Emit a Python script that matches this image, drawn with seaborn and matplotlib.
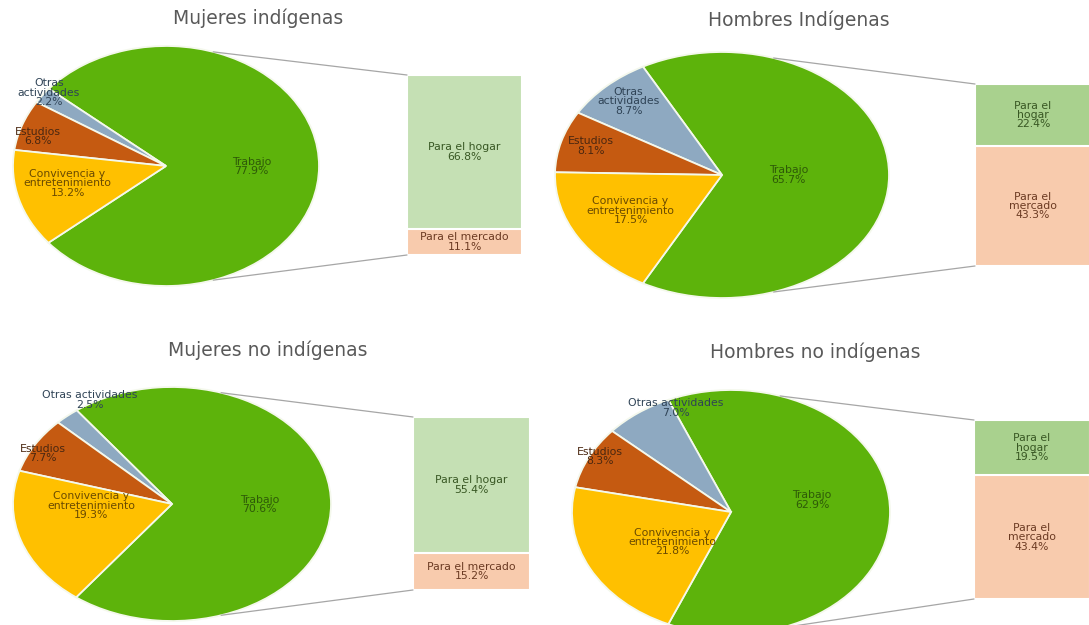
import numpy as np
import matplotlib
matplotlib.use("Agg")
import matplotlib.pyplot as plt
from matplotlib.patches import ConnectionPatch
import seaborn as sns

# ---------------- data ----------------
titles = ["Mujeres indígenas", "Hombres Indígenas", "Mujeres no indígenas", "Hombres no indígenas"]
categories = ["Trabajo", "Otras actividades", "Estudios", "Convivencia y entretenimiento"]
trabajo = [77.9, 65.7, 70.6, 62.9]
otras = [2.2, 8.7, 2.5, 7.0]
estudios = [6.8, 8.1, 7.7, 8.3]
convivencia = [13.2, 17.5, 19.3, 21.8]
bar_categories = ["Para el hogar", "Para el mercado"]
hogar = [66.8, 22.4, 55.4, 19.5]
mercado = [11.1, 43.3, 15.2, 43.4]

slice_labels = [
    ["Trabajo", "Otras\nactividades", "Estudios", "Convivencia y\nentretenimiento"],
    ["Trabajo", "Otras\nactividades", "Estudios", "Convivencia y\nentretenimiento"],
    ["Trabajo", "Otras actividades", "Estudios", "Convivencia y\nentretenimiento"],
    ["Trabajo", "Otras actividades", "Estudios", "Convivencia y\nentretenimiento"],
]
bar_labels = [
    ["Para el hogar", "Para el mercado"],
    ["Para el\nhogar", "Para el\nmercado"],
    ["Para el hogar", "Para el mercado"],
    ["Para el\nhogar", "Para el\nmercado"],
]

# ---------------- style ----------------
sns.set_theme(style="white")
plt.rcParams["font.family"] = ["DejaVu Sans"]

slice_colors = ["#5DB30B", "#8EA9C1", "#C55A11", "#FFC000"]
slice_text = ["#2E5A08", "#2F4356", "#4A2710", "#6A4A00"]
hogar_colors = ["#C5E0B4", "#A9D18E", "#C5E0B4", "#A9D18E"]
mercado_color = "#F8CBAD"
hogar_text = "#385723"
mercado_text = "#6B3A22"

W, H = 1089, 625
# layout (pixels): pie center x, center y, radius x, radius y
pie_boxes = [(166, 166, 153, 120), (722, 175, 167, 123), (172, 504, 159, 117), (731, 512, 159, 122)]
# bar boxes: left, top, right, bottom
bar_boxes = [(407, 75, 522, 255), (975, 84, 1091, 266), (413, 417, 530, 590), (974, 420, 1090, 599)]
title_pos = [(258, 18), (799, 20), (268, 350), (815, 352)]
# label placement per slice: (radius fraction, angle offset from slice middle)
label_place = [
    [(0.56, -0.5), (0.98, -2.5), (0.87, 3.6), (0.66, -3.4)],
    [(0.40, 0.0), (0.82, -0.9), (0.82, -0.8), (0.62, -2.3)],
    [(0.55, -0.5), (1.03, -11.1), (0.92, 2.4), (0.51, -16.7)],
    [(0.52, 10.9), (0.92, -13.7), (0.94, -2.4), (0.445, 6.1)],
]

fig = plt.figure(figsize=(W / 100, H / 100), dpi=100)
fig.patch.set_facecolor("white")


def fig_rect(left, top, right, bottom):
    return [left / W, 1 - bottom / H, (right - left) / W, (bottom - top) / H]


LFS = 7.8
LSP = 0.92

for i in range(4):
    cx, cy, rx, ry = pie_boxes[i]
    pax = fig.add_axes(fig_rect(cx - rx, cy - ry, cx + rx, cy + ry))
    vals = [trabajo[i], otras[i], estudios[i], convivencia[i]]
    start = -trabajo[i] * 3.6 / 2
    wedges, _ = pax.pie(vals, colors=slice_colors, startangle=start, counterclock=True,
                        wedgeprops=dict(edgecolor="#F4F8EC", linewidth=1.3))
    pax.set_aspect("auto")
    pax.set_xlim(-1, 1)
    pax.set_ylim(-1, 1)
    pax.axis("off")
    for j, w in enumerate(wedges):
        mid = (w.theta1 + w.theta2) / 2
        r, dth = label_place[i][j]
        a = np.deg2rad(mid + dth)
        pax.text(r * np.cos(a), r * np.sin(a), f"{slice_labels[i][j]}\n{vals[j]:.1f}%",
                 ha="center", va="center", fontsize=LFS, linespacing=LSP,
                 color=slice_text[j], clip_on=False)

    # bar of the Trabajo slice
    l, t, r_, b = bar_boxes[i]
    bax = fig.add_axes(fig_rect(l, t, r_, b))
    total = hogar[i] + mercado[i]
    sns.barplot(x=[0], y=[total], color=hogar_colors[i], width=1, saturation=1,
                edgecolor="white", linewidth=1.5, ax=bax)
    sns.barplot(x=[0], y=[mercado[i]], color=mercado_color, width=1, saturation=1,
                edgecolor="white", linewidth=1.5, ax=bax)
    bax.set_xlim(-0.5, 0.5)
    bax.set_ylim(0, total)
    bax.axis("off")
    bax.text(0, mercado[i] + hogar[i] / 2, f"{bar_labels[i][0]}\n{hogar[i]:.1f}%",
             ha="center", va="center", fontsize=LFS, linespacing=LSP, color=hogar_text)
    bax.text(0, mercado[i] / 2, f"{bar_labels[i][1]}\n{mercado[i]:.1f}%",
             ha="center", va="center", fontsize=LFS, linespacing=LSP, color=mercado_text)

    # connector lines
    for ang, yb in [(72, total), (-72, 0)]:
        a = np.deg2rad(ang)
        con = ConnectionPatch(xyA=(np.cos(a), np.sin(a)), coordsA=pax.transData,
                              xyB=(-0.5, yb), coordsB=bax.transData,
                              color="#A6A6A6", linewidth=0.9)
        fig.add_artist(con)

    tx, ty = title_pos[i]
    fig.text(tx / W, 1 - ty / H, titles[i], ha="center", va="center",
             fontsize=13.5, color="#595959")

fig.savefig("out.png", dpi=100, facecolor="white")
